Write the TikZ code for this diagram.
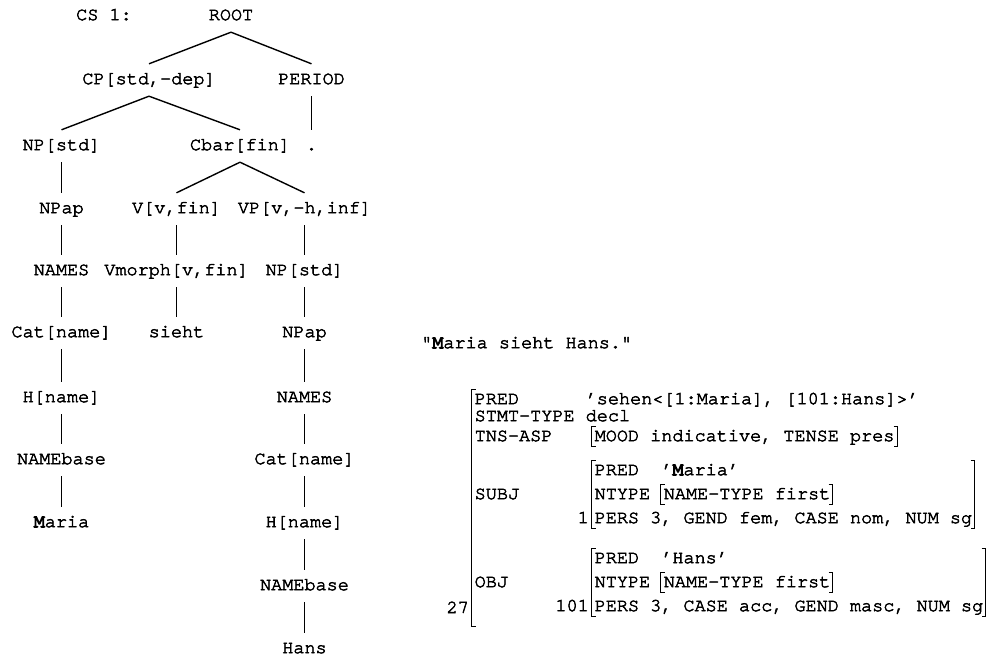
\documentclass[tikz,border=0pt]{standalone}
\usepackage{fontspec}
\newfontfamily\cur{texgyrecursor-regular.otf}[Ligatures={NoCommon},FakeBold=2.8]
\newfontfamily\curM{texgyrecursor-regular.otf}[Ligatures={NoCommon},FakeBold=6]
\newcommand{\cfont}{\cur\fontsize{18.5}{20}\selectfont}
\newcommand{\bM}{{\curM M}}
\newcommand{\lbr}[3]{\draw[brk] (#1+4,#2) -- (#1,#2) -- (#1,#3) -- (#1+4,#3);}
\newcommand{\rbr}[3]{\draw[brk] (#1-4,#2) -- (#1,#2) -- (#1,#3) -- (#1-4,#3);}
\begin{document}
\begin{tikzpicture}[x=1pt,y=-1pt,
  tn/.style={font=\cfont, inner sep=0pt, text height=20.2pt, text depth=11.8pt, anchor=base},
  ft/.style={font=\cfont, inner sep=0pt, anchor=base west},
  fr/.style={font=\cfont, inner sep=0pt, anchor=base east},
  edge/.style={line width=1.4pt},
  brk/.style={line width=1.1pt}]
\useasboundingbox[fill=white] (0,0) rectangle (990,658);
% tree
\node[tn] (cs) at (104,20.2) {CS 1:};
\node[tn] (root) at (231,20.2) {ROOT};
\node[tn] (cp) at (149,84.2) {CP[std,-dep]};
\node[tn] (period) at (311.5,84.2) {PERIOD};
\node[tn] (np1) at (61.5,150.2) {NP[std]};
\node[tn] (cbar) at (240,150.2) {Cbar[fin]};
\node[tn] (dot) at (311.5,150.2) {.};
\node[tn] (npap1) at (61.5,213.2) {NPap};
\node[tn] (v) at (176.5,213.2) {V[v,fin]};
\node[tn] (vp) at (304.5,213.2) {VP[v,-h,inf]};
\node[tn] (names1) at (61.5,275.2) {NAMES};
\node[tn] (vm) at (176.5,275.2) {Vmorph[v,fin]};
\node[tn] (np2) at (304.5,275.2) {NP[std]};
\node[tn] (cat1) at (61.5,337.2) {Cat[name]};
\node[tn] (sieht) at (176.5,337.2) {sieht};
\node[tn] (npap2) at (304.5,337.2) {NPap};
\node[tn] (h1) at (61.5,402.2) {H[name]};
\node[tn] (names2) at (304.5,402.2) {NAMES};
\node[tn] (nb1) at (61.5,464.2) {NAMEbase};
\node[tn] (cat2) at (304.5,464.2) {Cat[name]};
\node[tn] (maria) at (61.5,527.2) {\bM aria};
\node[tn] (h2) at (304.5,527.2) {H[name]};
\node[tn] (nb2) at (304.5,590.2) {NAMEbase};
\node[tn] (hans) at (304.5,653.2) {Hans};
\foreach \a/\b in {root/cp,root/period,cp/np1,cp/cbar,period/dot,np1/npap1,cbar/v,cbar/vp,
  npap1/names1,v/vm,vp/np2,names1/cat1,vm/sieht,np2/npap2,cat1/h1,npap2/names2,h1/nb1,
  names2/cat2,nb1/maria,cat2/h2,h2/nb2,nb2/hans}
  \draw[edge] (\a.south) -- (\b.north);
% f-structure
\node[ft] (quote) at (421,348.2) {"\bM aria sieht Hans."};
\node[ft] (predl) at (474.5,404.2) {PRED};
\node[ft] (predv) at (585.5,404.2) {’sehen<[1:Maria], [101:Hans]>’};
\node[ft] (stmtl) at (474.5,421.2) {STMT-TYPE};
\node[ft] (stmtv) at (585.5,421.2) {decl};
\node[ft] (tnsl) at (474.5,441.2) {TNS-ASP};
\node[ft] (tnsv) at (594.5,441.2) {MOOD indicative, TENSE pres};
\node[ft] (subjl) at (474.5,499.2) {SUBJ};
\node[ft] (spredl) at (594.5,475.2) {PRED};
\node[ft] (spredv) at (661.1,475.2) {’\bM aria’};
\node[ft] (sntl) at (594.5,499.2) {NTYPE};
\node[ft] (sntv) at (663.6,499.2) {NAME-TYPE first};
\node[fr] (sidx) at (589,523.2) {1};
\node[ft] (spers) at (594.5,523.2) {PERS 3, GEND fem, CASE nom, NUM sg};
\node[ft] (objl) at (474.5,587.2) {OBJ};
\node[ft] (opredl) at (594.5,563.2) {PRED};
\node[ft] (opredv) at (661.1,563.2) {’Hans’};
\node[ft] (ontl) at (594.5,587.2) {NTYPE};
\node[ft] (ontv) at (663.6,587.2) {NAME-TYPE first};
\node[fr] (oidx) at (589,611.2) {101};
\node[ft] (opers) at (594.5,611.2) {PERS 3, CASE acc, GEND masc, NUM sg};
\node[fr] (fidx) at (469,613) {27};
% brackets
\lbr{471.5}{389.5}{626.5}
\lbr{591.5}{426.5}{446.5}\rbr{897.5}{426.5}{446.5}
\lbr{591.5}{460.5}{528.5}\rbr{974.5}{460.5}{528.5}
\lbr{660.5}{484.5}{504.5}\rbr{832.5}{484.5}{504.5}
\lbr{591.5}{548.5}{616.5}\rbr{985.5}{548.5}{616.5}
\lbr{660.5}{572.5}{592.5}\rbr{832.5}{572.5}{592.5}
\end{tikzpicture}
\end{document}
